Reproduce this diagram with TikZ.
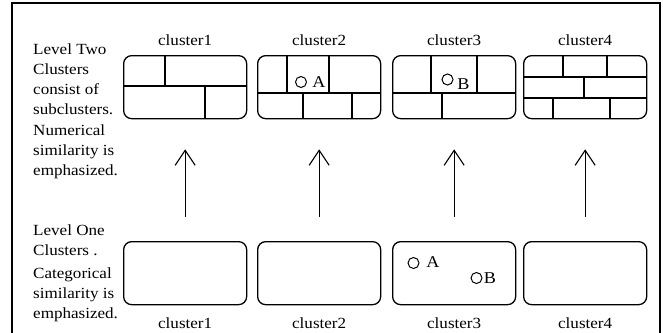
\documentclass[tikz,border=0pt]{standalone}
\usepackage{fontspec}
\setmainfont{Liberation Serif}[FakeStretch=1.1]
\usetikzlibrary{arrows.meta}
\begin{document}
\begin{tikzpicture}[x=1pt,y=-1pt,
  box/.style={draw, line width=1.3pt, rounded corners=8pt, minimum width=123pt, minimum height=63pt, inner sep=0pt, anchor=north west},
  part/.style={line width=1.2pt},
  lbl/.style={font=\fontsize{15.5}{18}\selectfont, inner sep=0pt},
  side/.style={font=\fontsize{15.5}{19.7}\selectfont, align=left, inner sep=0pt, anchor=north west},
  pnt/.style={draw, circle, line width=1pt, minimum size=11pt, inner sep=0pt},
  ltr/.style={font=\fontsize{16.5}{18}\selectfont, inner sep=0pt},
  up/.style={-{Straight Barb[length=15pt,width=20pt,line width=1.1pt]}, line width=1.2pt, shorten <=24pt, shorten >=30pt}
]
\useasboundingbox (0,0) rectangle (663,332);
\fill[white] (0,0) rectangle (663,332);
% outer frame
\draw[line width=2pt] (12,334) -- (12,3) -- (660,3) -- (660,334);

% level two boxes
\node[box] (t1) at (123,55) {};
\node[box] (t2) at (257,55) {};
\node[box] (t3) at (392,55) {};
\node[box] (t4) at (523,55) {};
% level one boxes
\node[box] (b1) at (123,241) {};
\node[box] (b2) at (257,241) {};
\node[box] (b3) at (392,241) {};
\node[box] (b4) at (523,241) {};

% subclusters
\draw[part] (123,86) -- (246,86) (165,55) -- (165,86) (205,86) -- (205,118);
\draw[part] (257,93) -- (380,93) (287,55) -- (287,93) (329,55) -- (329,93)
            (303,93) -- (303,118) (352,93) -- (352,118);
\draw[part] (392,93) -- (515,93) (431,55) -- (431,93) (477,55) -- (477,93)
            (442,93) -- (442,118);
\draw[part] (523,77) -- (646,77) (523,98) -- (646,98)
            (563,55) -- (563,77) (607,55) -- (607,77)
            (584,77) -- (584,98)
            (553,98) -- (553,118) (610,98) -- (610,118);

% points
\node[pnt] (pa2) at (301,82) {};
\node[ltr] (la2) at (319,82) {A};
\node[pnt] (pb3) at (447.5,79.5) {};
\node[ltr] (lb3) at (463.5,84) {B};
\node[pnt] (pa1) at (413.5,263) {};
\node[ltr] (la1) at (433,262) {A};
\node[pnt] (pb1) at (476.5,278) {};
\node[ltr] (lb1) at (490,278) {B};

% cluster labels
\foreach \i in {1,...,4} {
  \node[lbl] (tl\i) at ([yshift=15pt]t\i.north) {cluster\i};
  \node[lbl] (bl\i) at ([yshift=-18pt]b\i.south) {cluster\i};
}

% arrows
\foreach \i in {1,...,4} \draw[up] (b\i) -- (t\i);

% side texts
\node[side] (s1) at (33,44) {Level Two\\Clusters\\consist of\\subclusters.};
\node[side] (s2) at (33,125) {Numerical\\similarity is\\emphasized.};
\node[side] (s3) at (33,225) {Level One\\Clusters .};
\node[side] (s4) at (33,268) {Categorical\\similarity is\\emphasized.};
\end{tikzpicture}
\end{document}
